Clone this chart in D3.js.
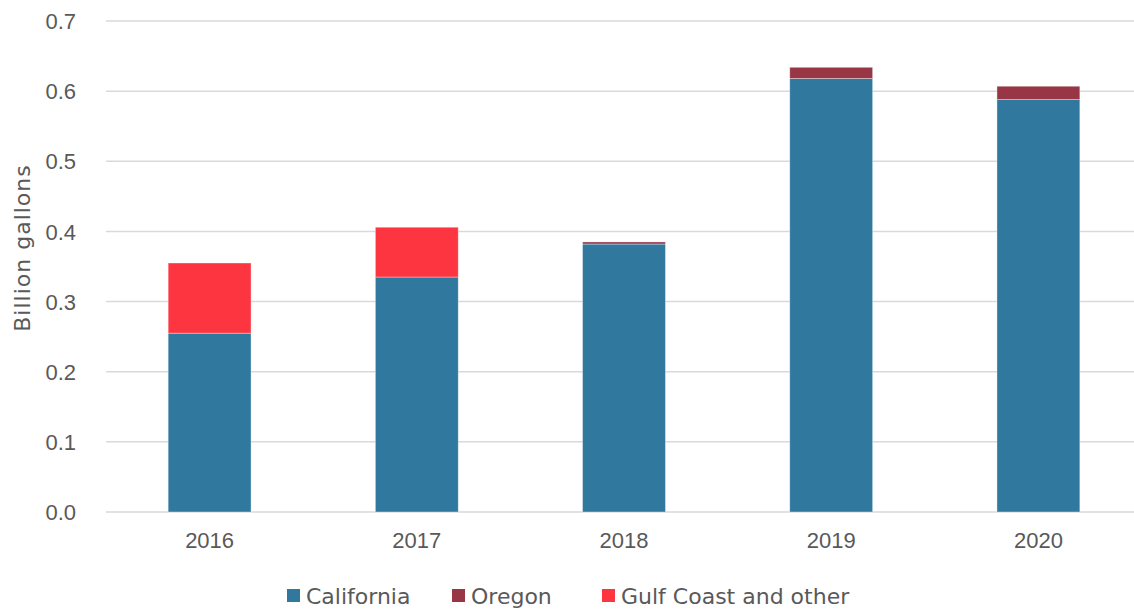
<!DOCTYPE html>
<html>
<head>
<meta charset="utf-8">
<script src="https://cdn.jsdelivr.net/npm/d3@7"></script>
<style>
  html, body { margin: 0; padding: 0; background: #fff; }
  svg { display: block; font-family: "DejaVu Sans", sans-serif; }
  .tick text { fill: #595959; }
</style>
</head>
<body>
<svg id="chart" width="1134" height="609"></svg>
<script>
// data (billion gallons)
const years = ['2016', '2017', '2018', '2019', '2020'];
const california = [0.255, 0.335, 0.382, 0.618, 0.588];
const oregon = [0.000, 0.000, 0.003, 0.016, 0.019];
const gulfCoast = [0.100, 0.071, 0.000, 0.000, 0.000];
const seriesNames = ['California', 'Oregon', 'Gulf Coast and other'];
const seriesColors = ['#31789f', '#983646', '#fd3541'];
const yTicks = [0, 0.1, 0.2, 0.3, 0.4, 0.5, 0.6, 0.7];

// plot area runs a little past the right edge of the window
const margin = {top: 21, right: -8, bottom: 97, left: 106};
const width = 1134 - margin.left - margin.right;
const height = 609 - margin.top - margin.bottom;

const svg = d3.select('#chart');
const g = svg.append('g')
  .attr('transform', 'translate(' + margin.left + ',' + margin.top + ')');

const rows = years.map((yr, i) => ({
  year: yr,
  'California': california[i],
  'Oregon': oregon[i],
  'Gulf Coast and other': gulfCoast[i]
}));
const stacked = d3.stack().keys(seriesNames)(rows);

const x = d3.scaleBand()
  .domain(years)
  .range([0, width])
  .paddingInner(0.6)
  .paddingOuter(0.3);
const y = d3.scaleLinear().domain([0, 0.7]).range([height, 0]);
const color = d3.scaleOrdinal().domain(seriesNames).range(seriesColors);

// gridlines
g.append('g')
  .selectAll('line')
  .data(yTicks)
  .join('line')
  .attr('x1', 0)
  .attr('x2', width)
  .attr('y1', d => y(d))
  .attr('y2', d => y(d))
  .attr('stroke', '#d9d9d9')
  .attr('stroke-width', 1.5);

// y axis labels
const yAxis = g.append('g')
  .call(d3.axisLeft(y).tickValues(yTicks).tickFormat(d3.format('.1f')).tickSize(0).tickPadding(30));
yAxis.select('.domain').remove();
yAxis.selectAll('text').attr('font-size', 22).attr('dy', '0.35em');

// x axis labels
const xAxis = g.append('g')
  .attr('transform', 'translate(0,' + height + ')')
  .call(d3.axisBottom(x).tickSize(0).tickPadding(20));
xAxis.select('.domain').remove();
xAxis.selectAll('text').attr('font-size', 22);

// bars
g.append('g')
  .selectAll('g')
  .data(stacked)
  .join('g')
  .attr('fill', d => color(d.key))
  .selectAll('rect')
  .data(d => d.filter(s => s[1] - s[0] > 0))
  .join('rect')
  .attr('x', d => x(d.data.year))
  .attr('width', x.bandwidth())
  .attr('y', d => y(d[1]))
  .attr('height', d => y(d[0]) - y(d[1]))
  .attr('stroke', '#ffffff')
  .attr('stroke-opacity', 0.45)
  .attr('stroke-width', 0.8);

// y axis title
svg.append('text')
  .attr('transform', 'translate(30,' + 248 + ') rotate(-90)')
  .attr('text-anchor', 'middle')
  .attr('fill', '#595959')
  .attr('font-size', 22)
  .attr('letter-spacing', 1)
  .text('Billion gallons');

// legend
const legendX = [287, 452, 602];
const legend = svg.append('g')
  .selectAll('g')
  .data(seriesNames)
  .join('g')
  .attr('transform', (d, i) => 'translate(' + legendX[i] + ',596)');
legend.append('rect')
  .attr('x', 0)
  .attr('y', -7)
  .attr('width', 13)
  .attr('height', 13)
  .attr('fill', d => color(d));
legend.append('text')
  .attr('x', 19)
  .attr('dy', '0.35em')
  .attr('fill', '#595959')
  .attr('font-size', 22)
  .text(d => d);
</script>
</body>
</html>
